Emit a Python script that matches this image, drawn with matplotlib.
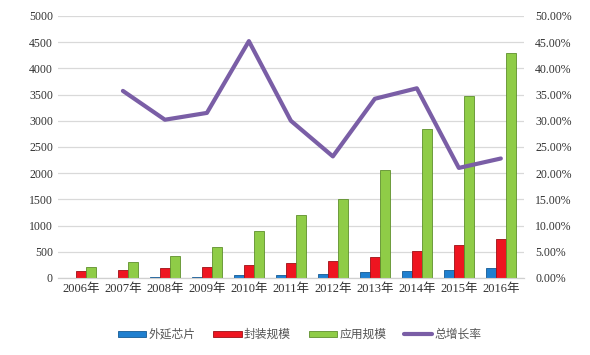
import matplotlib
matplotlib.use("Agg")
import matplotlib.pyplot as plt
import numpy as np

plt.rcParams['font.family'] = ['Liberation Serif', 'Noto Sans CJK SC', 'DejaVu Sans']

years = ['2006年', '2007年', '2008年', '2009年', '2010年', '2011年',
         '2012年', '2013年', '2014年', '2015年', '2016年']
epi_chip = [5, 8, 10, 25, 50, 65, 80, 110, 140, 160, 190]
packaging = [140, 160, 185, 200, 250, 280, 320, 400, 520, 620, 750]
application = [200, 300, 420, 590, 890, 1210, 1500, 2060, 2850, 3480, 4290]
growth = [np.nan, 35.7, 30.2, 31.5, 45.2, 30.0, 23.2, 34.2, 36.2, 21.0, 22.8]

fig = plt.figure(figsize=(5.9, 3.55), dpi=100)
ax = fig.add_axes([0.098, 0.217, 0.79, 0.738])
ax2 = ax.twinx()

x = np.arange(len(years))
w = 0.24
ax.bar(x - w, epi_chip, w, color='#1f7fcf', edgecolor='#155a94', linewidth=0.6, label='外延芯片', zorder=3)
ax.bar(x, packaging, w, color='#ee1520', edgecolor='#9e0e14', linewidth=0.6, label='封装规模', zorder=3)
ax.bar(x + w, application, w, color='#8fcc47', edgecolor='#5e8f2c', linewidth=0.6, label='应用规模', zorder=3)
ax2.plot(x, growth, color='#7a5ea6', linewidth=3, label='总增长率', solid_capstyle='round')

ax.set_ylim(0, 5000)
ax.set_yticks(np.arange(0, 5001, 500))
ax.set_xlim(-0.55, len(years) - 0.45)
ax.set_xticks(x)
ax.set_xticklabels(years, fontsize=9, color='#333333')
ax.grid(axis='y', color='#d9d9d9', linewidth=0.9, zorder=0)
ax.set_axisbelow(True)
ax.tick_params(axis='both', length=0, labelsize=8.5, labelcolor='#333333')
ax.tick_params(axis='x', labelsize=9)

ax2.set_ylim(0, 50)
ax2.set_yticks(np.arange(0, 50.1, 5))
ax2.set_yticklabels(['%.2f%%' % v for v in np.arange(0, 50.1, 5)])
ax2.tick_params(axis='y', length=0, labelsize=8.5, labelcolor='#333333', pad=8)

for a in (ax, ax2):
    for s in ('top', 'left', 'right'):
        a.spines[s].set_visible(False)
    a.spines['bottom'].set_color('#d0d0d0')

h1, l1 = ax.get_legend_handles_labels()
h2, l2 = ax2.get_legend_handles_labels()
fig.legend(h1 + h2, l1 + l2, loc='center', bbox_to_anchor=(0.508, 0.058), ncol=4,
           frameon=False, prop={'family': ['Noto Sans CJK SC'], 'size': 8.5},
           handlelength=2.4, handleheight=0.45, handletextpad=0.2,
           columnspacing=1.5, labelcolor='#555555')

fig.savefig('out.png', dpi=100)
